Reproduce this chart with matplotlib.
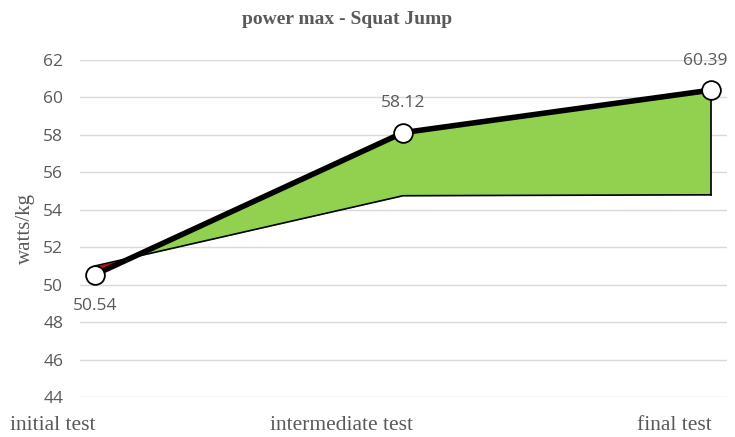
import matplotlib.pyplot as plt
import numpy as np

categories = ["initial test", "intermediate test", "final test"]
power_max = [50.54, 58.12, 60.39]
lower_band = [51.0, 54.75, 54.8]
y_ticks = [44, 46, 48, 50, 52, 54, 56, 58, 60, 62]

gray = "#595959"
serif = "Liberation Serif"
sans = "Open Sans"

fig = plt.figure(figsize=(7.35, 4.37), dpi=100)
ax = fig.add_axes([80 / 735, 1 - 397 / 437, (727 - 80) / 735, (397 - 60) / 437])

x = np.arange(len(categories))
up = np.array(power_max)
lo = np.array(lower_band)

# densify to fill the crossing near the start cleanly
xf = np.linspace(0, 2, 401)
upf = np.interp(xf, x, up)
lof = np.interp(xf, x, lo)
ax.fill_between(xf, lof, upf, where=upf >= lof, color="#92D050", interpolate=True, lw=0, zorder=2)
ax.fill_between(xf, lof, upf, where=upf < lof, color="#E00000", interpolate=True, lw=0, zorder=2)

ax.plot(x, lo, color="black", lw=1.2, zorder=3)
ax.plot([x[-1], x[-1]], [lo[-1], up[-1]], color="black", lw=1.2, zorder=3)
ax.plot(x, up, color="black", lw=4, zorder=4, solid_capstyle="round",
        marker="o", markersize=13.5, markerfacecolor="white",
        markeredgecolor="black", markeredgewidth=1.3)

ax.set_xlim(-0.0487, 2.052)
ax.set_ylim(44, 62)
ax.set_yticks(y_ticks)
ax.set_yticklabels([str(v) for v in y_ticks], fontfamily=sans, fontsize=12.5, color=gray)
ax.tick_params(axis="y", length=0, pad=12)
ax.set_xticks([])
ax.grid(axis="y", color="#d9d9d9", lw=1)
ax.set_axisbelow(True)
for s in ax.spines.values():
    s.set_visible(False)

# data labels
offsets = [(0, -1.7), (0, 1.6), (-0.02, 1.55)]
for xi, v, (dx, dy) in zip(x, power_max, offsets):
    ax.text(xi + dx, v + dy, f"{v:.2f}", ha="center", va="center",
            fontfamily=sans, fontsize=12.5, color=gray)

# category labels
label_px = [53, 341, 674]
for px, lab in zip(label_px, categories):
    fig.text(px / 735, 1 - 426 / 437, lab, ha="center", va="center",
             fontfamily=serif, fontsize=15.5, color=gray)

fig.text(25 / 735, 1 - 228 / 437, "watts/kg", rotation=90, ha="center", va="center",
         fontfamily=serif, fontsize=15, color=gray)
fig.text(347 / 735, 1 - 19 / 437, "power max - Squat Jump", ha="center", va="center",
         fontfamily=serif, fontsize=14, fontweight="bold", color=gray)

fig.savefig("out.png", dpi=100)
